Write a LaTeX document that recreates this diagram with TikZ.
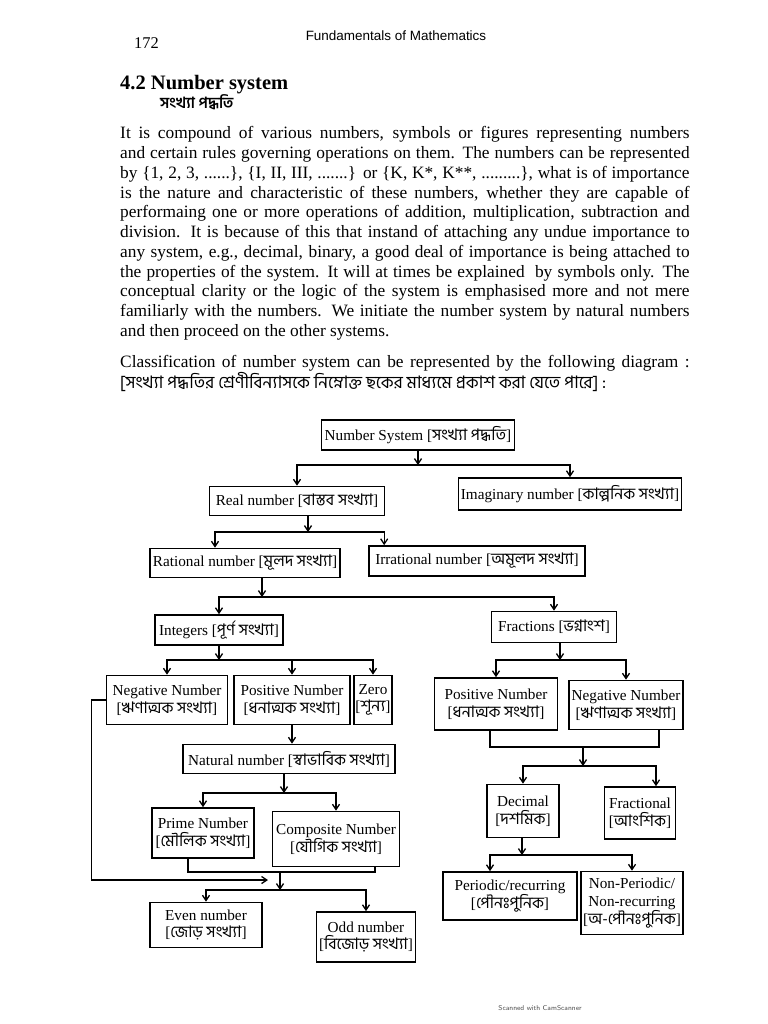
\documentclass[tikz,border=0pt]{standalone}
\usepackage{fontspec}
\setmainfont{Liberation Serif}
\newfontfamily\bn[Script=Bengali,Scale=1.05]{Hind Siliguri}
\newfontfamily\hdfont{Liberation Sans}
\usetikzlibrary{arrows.meta,calc}
\newcommand{\diafont}{\fontsize{13}{15}\selectfont}
\newcommand{\parafont}{\fontsize{14.8}{17}\selectfont}
\newcommand{\bnt}[1]{[{\bn #1}]}
\newcommand{\fline}[1]{\hbox to 486pt{#1}}
\tikzset{
  box/.style={draw,line width=1.4pt,align=center,inner sep=2pt,font=\diafont},
  bw/.style={minimum width=#1*.03cm},
  bh/.style={minimum height=#1*.03cm},
  arr/.style={line width=1.1pt,-{Straight Barb[length=4.5pt,width=6pt]}},
  link/.style={line width=1.1pt},
  pline/.style={anchor=base west,inner sep=0pt,font=\parafont},
}
\begin{document}
\begin{tikzpicture}[x=.03cm,y=-.03cm]
\useasboundingbox (0,0) rectangle (768,1024);
% page head
\node[anchor=base west,inner sep=0pt,font=\fontsize{14}{16}\selectfont] (pg) at (134,48) {172};
\node[anchor=base,inner sep=0pt,font=\hdfont\fontsize{11.5}{13}\selectfont] (hd) at (396,40) {Fundamentals of Mathematics};
\node[anchor=base west,inner sep=0pt,font=\bfseries\fontsize{17.5}{20}\selectfont] (sec) at (120,89) {4.2 Number system};
\node[anchor=base west,inner sep=0pt,font=\bn\bfseries\fontsize{12.5}{14}\selectfont] (secb) at (160,108) {সংখ্যা পদ্ধতি};
% text lines
\node[pline] (l1) at (120,138) {\fline{It is compound of various numbers, symbols or figures representing numbers}};
\node[pline] (l2) at (120,158) {\fline{and certain rules governing operations on them. The numbers can be represented}};
\node[pline] (l3) at (120,178) {\fline{by \{1, 2, 3, ......\}, \{I, II, III, .......\} or \{K, K*, K**, .........\}, what is of importance}};
\node[pline] (l4) at (120,198) {\fline{is the nature and characteristic of these numbers, whether they are capable of}};
\node[pline] (l5) at (120,217) {\fline{performaing one or more operations of addition, multiplication, subtraction and}};
\node[pline] (l6) at (120,237) {\fline{division. It is because of this that instand of attaching any undue importance to}};
\node[pline] (l7) at (120,257) {\fline{any system, e.g., decimal, binary, a good deal of importance is being attached to}};
\node[pline] (l8) at (120,277) {\fline{the properties of the system. It will at times be explained \ by symbols only. The}};
\node[pline] (l9) at (120,296) {\fline{conceptual clarity or the logic of the system is emphasised more and not mere}};
\node[pline] (l10) at (120,316) {\fline{familiarly with the numbers. We initiate the number system by natural numbers}};
\node[pline] (l11) at (120,336) {and then proceed on the other systems.};
\node[pline] (cap) at (120,367) {\fline{Classification of number system can be represented by the following diagram :}};
\node[pline,font=\bn\fontsize{14}{15}\selectfont] (capb) at (120,388) {[সংখ্যা পদ্ধতির শ্রেণীবিন্যাসকে নিম্নোক্ত ছকের মাধ্যমে প্রকাশ করা যেতে পারে] :};
% boxes
\node[box,bw=193,bh=30] (sys) at (418,435) {Number System \bnt{সংখ্যা পদ্ধতি}};
\node[box,bw=175,bh=29] (real) at (297,501) {Real number \bnt{বাস্তব সংখ্যা}};
\node[box,bw=212,bh=32] (imag) at (570,494) {Imaginary number \bnt{কাল্পনিক সংখ্যা}};
\node[box,bw=190,bh=29] (rat) at (245,563) {Rational number \bnt{মূলদ সংখ্যা}};
\node[box,bw=216,bh=30] (irr) at (477,561) {Irrational number \bnt{অমূলদ সংখ্যা}};
\node[box,bw=128,bh=30] (int) at (219,630) {Integers \bnt{পূর্ণ সংখ্যা}};
\node[box,bw=125,bh=31] (frac) at (554,627) {Fractions \bnt{ভগ্নাংশ}};
\node[box,bw=121,bh=49] (ineg) at (167,700) {Negative Number\\\bnt{ঋণাত্মক সংখ্যা}};
\node[box,bw=116,bh=49] (ipos) at (292,700) {Positive Number\\\bnt{ধনাত্মক সংখ্যা}};
\node[box,bw=33,bh=49,inner sep=1pt] (zero) at (373,700) {Zero\\\bnt{শূন্য}};
\node[box,bw=123,bh=52] (fpos) at (496,704) {Positive Number\\\bnt{ধনাত্মক সংখ্যা}};
\node[box,bw=113,bh=49] (fneg) at (626,705) {Negative Number\\\bnt{ঋণাত্মক সংখ্যা}};
\node[box,bw=212,bh=29] (nat) at (289,759) {Natural number \bnt{স্বাভাবিক সংখ্যা}};
\node[box,bw=102,bh=50] (prime) at (203,833) {Prime Number\\\bnt{মৌলিক সংখ্যা}};
\node[box,bw=127,bh=55] (comp) at (336,839) {Composite Number\\\bnt{যৌগিক সংখ্যা}};
\node[box,bw=112,bh=45] (even) at (206,925) {Even number\\\bnt{জোড় সংখ্যা}};
\node[box,bw=97,bh=50] (odd) at (366,937) {Odd number\\\bnt{বিজোড় সংখ্যা}};
\node[box,bw=72,bh=53] (dec) at (523,811) {Decimal\\\bnt{দশমিক}};
\node[box,bw=71,bh=52] (fracl) at (640,813) {Fractional\\\bnt{আংশিক}};
\node[box,bw=134,bh=48] (per) at (510,896) {Periodic/recurring\\\bnt{পৌনঃপুনিক}};
\node[box,bw=95,bh=63] (nonp) at (632,903) {Non-Periodic/\\Non-recurring\\\bnt{অ-পৌনঃপুনিক}};
% connectors
\coordinate (j1) at (418,465);
\draw[arr] (sys) -- (j1);
\draw[arr] (j1) -| (real);
\draw[arr] (j1) -| (imag);
\coordinate (j2) at (308,532);
\draw[arr] (real.south -| j2) -- (j2);
\draw[arr] (j2) -| ($(rat.north)+(-30,0)$);
\draw[arr] (j2) -| ($(irr.north west)+(16,0)$);
\coordinate (j3) at (262,597);
\draw[arr] (rat.south -| j3) -- (j3);
\draw[arr] (j3) -| (int);
\draw[arr] (j3) -| (frac);
\coordinate (j4) at (219,660);
\draw[arr] (int) -- (j4);
\draw[arr] (j4) -| (ineg);
\draw[arr] (j4) -| (ipos);
\draw[arr] (j4) -| (zero);
\coordinate (j5) at (560,660);
\draw[arr] (frac.south -| j5) -- (j5);
\draw[arr] (j5) -| (fpos);
\draw[arr] (j5) -| (fneg);
\draw[arr] (ipos) -- (ipos |- nat.north);
\coordinate (j6) at (284,793);
\draw[arr] (nat.south -| j6) -- (j6);
\draw[arr] (j6) -| (prime);
\draw[arr] (j6) -| (comp);
\coordinate (j7) at (280,872);
\draw[link] ($(prime.south)+(-15,0)$) |- (j7) -| ($(comp.south)+(39,0)$);
\coordinate (k) at (268,880);
\draw[arr] (ineg.west) -- ++(-14,0) |- (k);
\coordinate (j8) at (280,890);
\draw[arr] (j7) -- (j8);
\draw[arr] (j8) -| (even);
\draw[arr] (j8) -| (odd);
\coordinate (j9) at (583,747);
\draw[link] ($(fpos.south)+(-6,0)$) |- (j9) -| ($(fneg.south)+(33,0)$);
\coordinate (j10) at (583,766);
\draw[arr] (j9) -- (j10);
\draw[arr] (j10) -| (dec);
\draw[arr] (j10) -| ($(fracl.north)+(16,0)$);
\coordinate (j11) at (522,855);
\draw[arr] (dec.south -| j11) -- (j11);
\draw[arr] (j11) -| ($(per.north)+(-20,0)$);
\draw[arr] (j11) -| (nonp);
\node[font=\sffamily\fontsize{6}{7}\selectfont,text=black!70] (scan) at (540,1008) {Scanned with CamScanner};
\end{tikzpicture}
\end{document}
